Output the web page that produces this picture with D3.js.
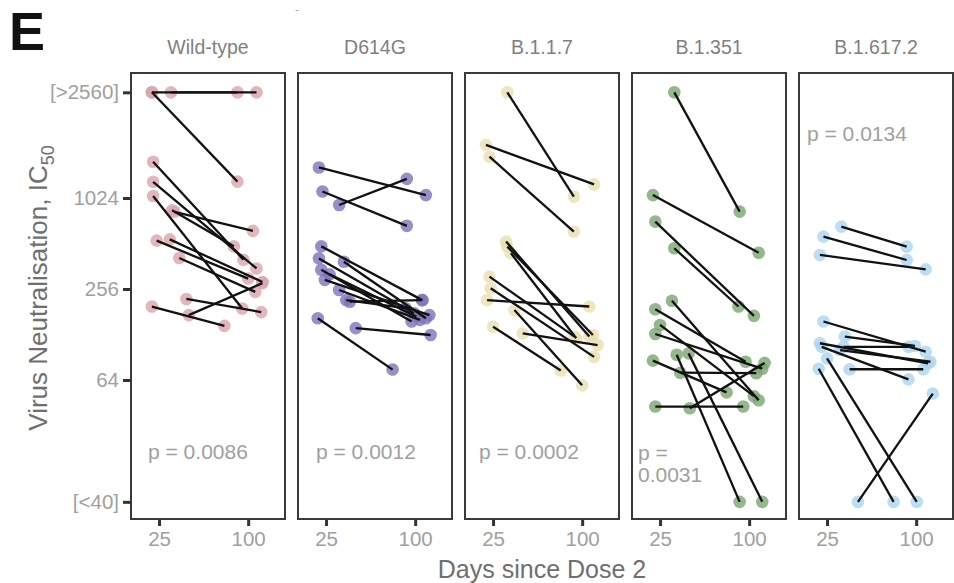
<!DOCTYPE html>
<html><head><meta charset="utf-8">
<script src="https://cdn.jsdelivr.net/npm/d3@7"></script>
<style>body{margin:0;background:#fff;} svg{display:block;font-family:"Liberation Sans",Arial,sans-serif;}</style>
</head><body><svg id="c" width="954" height="583"></svg>
<script>
// ---- data ----
const variants = ["Wild-type", "D614G", "B.1.1.7", "B.1.351", "B.1.617.2"];
const pValues = [["p = 0.0086"], ["p = 0.0012"], ["p = 0.0002"], ["p =", "0.0031"], ["p = 0.0134"]];
const xTicks = [25, 100];
const yTicks = [10, 64, 256, 1024, 5120];
const yTickLabels = ["[<40]", "64", "256", "1024", "[>2560]"];
// each row: [day early, IC50 early, day late, IC50 late]
const wildType = [
  [19,5120,107,5120],[35,5120,91,5120],[19,5120,91,1313],[20,1780,96,400],
  [20,1310,107,350],[20,1055,95,190],[38,830,104,620],[36,850,88,490],
  [23,535,100,300],[34,545,112,285],[42,410,106,245],[48,220,111,180],
  [19,196,80,146],[50,172,112,280]
];
const d614g = [
  [19,1630,109,1070],[22,1130,93,670],[36,920,93,1370],[21,490,106,216],
  [19,408,99,177],[40,388,109,164],[21,343,97,156],[24,294,112,172],
  [36,252,104,160],[45,211,106,216],[42,216,92,191],[28,320,101,168],
  [18,164,81,75],[50,141,113,127]
];
const b117 = [
  [37,5120,93,1045],[19,2300,110,1260],[22,1920,93,613],[36,527,106,124],
  [37,488,109,127],[40,442,95,121],[22,309,93.5,124],[23,259,110,91],
  [20,216,106,196],[43,186,100,59],[25,144,82,74],[50,130,113,109]
];
const b1351 = [
  [37,5120,92,832],[19,1070,108,445],[21,714,104,170],[37,476,91,196],
  [35,214,108,47],[21,188,97,84.5],[25,148,104,50],[21,129,111,76],
  [19,86,81,53],[42,71.5,106,71],[21,42.7,95,42.7],[50,41.6,113,83],
  [39,94,92,10],[49,96,111,10]
];
const b16172 = [
  [37,662,92,488],[22,568,92,398],[19,430,108,345],[22,156,108,98.5],
  [19,112,110,82.5],[39,106,93.5,106],[36,101,112,84.5],[20.5,106,93.5,64.6],
  [40,124,99,107.5],[44,75.4,106,75.4],[18,76,81,10],[25,89,100.5,10],
  [51,10,114,52]
];
const panelData = [wildType, d614g, b117, b1351, b16172];

// ---- style / layout ----
const colors = ["#dba4ad", "#7d74ba", "#e9e0b2", "#79a572", "#acd6ef"];
const pLayout = [{dx:17,y:459},{dx:18,y:459},{dx:14,y:459},{dx:6,y:460},{dx:8,y:141}];
const plotTop = 73, plotBottom = 519, pw = 154, left0 = 131, step = 167;
const tickColor = "#a0a0a0";

const svg = d3.select("#c");
const x = d3.scaleLinear().domain([1.4, 131]).range([0, pw]);
const y = d3.scaleLog().base(2).domain([7.7, 6873]).range([plotBottom, plotTop]);

svg.append("text").attr("x", 9).attr("y", 50).attr("font-size", 54).attr("font-weight", "bold")
  .attr("fill", "#111").text("E");
svg.append("text").attr("x", 295).attr("y", 14).attr("font-size", 12).attr("fill", "#aaa").text("-");

const yAxis = d3.axisLeft(y).tickValues(yTicks).tickFormat((d, i) => yTickLabels[i]).tickSize(8).tickPadding(4);
const yg = svg.append("g").attr("transform", `translate(${left0},0)`).call(yAxis);
yg.select(".domain").remove();
yg.selectAll(".tick line").attr("stroke", "#333").attr("stroke-width", 3);
yg.selectAll(".tick text").attr("fill", tickColor).attr("font-size", 20.5).attr("font-family", "Liberation Sans, Arial, sans-serif");

variants.forEach((name, i) => {
  const L = left0 + i * step;
  const g = svg.append("g").attr("transform", `translate(${L},0)`);
  g.append("text").attr("x", pw / 2).attr("y", 54).attr("text-anchor", "middle")
    .attr("font-size", 19.5).attr("fill", "#7f7f7f").text(name);
  const xAxis = d3.axisBottom(x).tickValues(xTicks).tickSize(7).tickPadding(5);
  const xg = g.append("g").attr("transform", `translate(0,${plotBottom})`).call(xAxis);
  xg.select(".domain").remove();
  xg.selectAll(".tick line").attr("stroke", "#333").attr("stroke-width", 3);
  xg.selectAll(".tick text").attr("fill", tickColor).attr("font-size", 20.5).attr("font-family", "Liberation Sans, Arial, sans-serif");
  const rows = panelData[i];
  const pts = [];
  rows.forEach(r => { pts.push([r[0], r[1]]); pts.push([r[2], r[3]]); });
  g.selectAll("circle").data(pts).join("circle")
    .attr("cx", d => x(d[0])).attr("cy", d => y(d[1])).attr("r", 6.3)
    .attr("fill", colors[i]).attr("fill-opacity", 0.8);
  g.selectAll("line.pair").data(rows).join("line").attr("class", "pair")
    .attr("x1", d => x(d[0])).attr("y1", d => y(d[1]))
    .attr("x2", d => x(d[2])).attr("y2", d => y(d[3]))
    .attr("stroke", "#111").attr("stroke-width", 2.3);
  const pl = pLayout[i];
  pValues[i].forEach((t, k) => {
    g.append("text").attr("x", pl.dx).attr("y", pl.y + k * 22).attr("font-size", 21)
      .attr("fill", tickColor).text(t);
  });
  g.append("rect").attr("x", 0).attr("y", plotTop).attr("width", pw).attr("height", plotBottom - plotTop)
    .attr("fill", "none").attr("stroke", "#3a3a3a").attr("stroke-width", 2);
});

svg.append("text").attr("x", left0 + (4 * step + pw) / 2).attr("y", 578).attr("text-anchor", "middle")
  .attr("font-size", 25).attr("fill", "#6f6f6f").text("Days since Dose 2");
const yt = svg.append("text").attr("transform", "translate(47,288) rotate(-90)").attr("text-anchor", "middle")
  .attr("font-size", 26).attr("fill", "#6f6f6f");
yt.append("tspan").text("Virus Neutralisation,  IC");
yt.append("tspan").attr("font-size", 18).attr("dy", 7).text("50");
</script></body></html>
